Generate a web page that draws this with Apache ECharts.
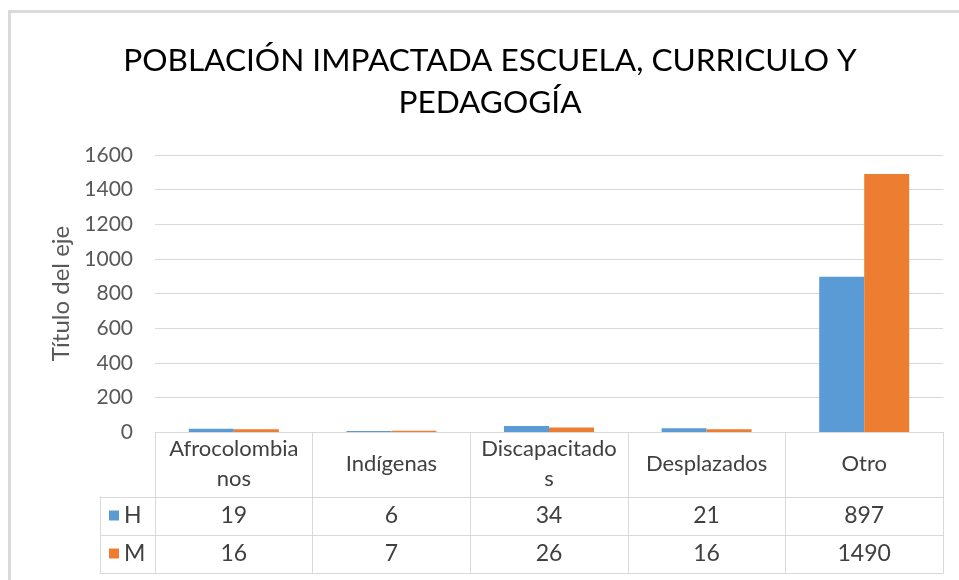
<!DOCTYPE html>
<html>
<head>
<meta charset="utf-8">
<script src="https://cdn.jsdelivr.net/npm/echarts@6/dist/echarts.min.js"></script>
<style>
  html, body { margin: 0; padding: 0; background: #fff; }
  #frame { position: absolute; left: 8px; top: 10px; width: 960px; height: 580px;
           border-left: 3px solid #dadada; border-top: 3px solid #dadada; box-sizing: border-box; }
  #chart { position: absolute; left: 0; top: 0; width: 959px; height: 580px; }
</style>
</head>
<body>
<div id="frame"></div>
<div id="chart"></div>
<script>
const categories = ['Afrocolombianos', 'Indígenas', 'Discapacitados', 'Desplazados', 'Otro'];
const categoryLabels = ['Afrocolombia\nnos', 'Indígenas', 'Discapacitado\ns', 'Desplazados', 'Otro'];
const seriesNames = ['H', 'M'];
const valuesH = [19, 6, 34, 21, 897];
const valuesM = [16, 7, 26, 16, 1490];
const yTicks = { min: 0, max: 1600, interval: 200 };

const FONT = 'Lato, "Open Sans", sans-serif';
const LINE = '#d9d9d9';
const TXT = '#404040';

const chart = echarts.init(document.getElementById('chart'), null, { renderer: 'canvas' });

function rowAxis(data, offset, labels) {
  return {
    type: 'category', gridIndex: 0, data: data, position: 'bottom', offset: offset,
    axisLine: { show: true, lineStyle: { color: LINE, width: 1 } },
    axisTick: { show: false },
    axisLabel: labels ? {
      show: true, margin: 19, verticalAlign: 'middle', fontSize: 23, color: TXT, fontFamily: FONT,
      interval: 0,
      formatter: function (v, i) { return String(labels[i]); }
    } : { show: false },
    splitLine: { show: false }
  };
}

chart.setOption({
  animation: false,
  title: {
    text: 'POBLACIÓN IMPACTADA ESCUELA, CURRICULO Y\nPEDAGOGÍA',
    left: 485, top: 35, textAlign: 'center',
    textStyle: { fontSize: 31.6, fontWeight: 'normal', color: '#000', fontFamily: FONT, lineHeight: 42 }
  },
  legend: {
    data: seriesNames, orient: 'vertical', left: 104, top: 499,
    icon: 'rect', itemWidth: 10, itemHeight: 10, itemGap: 15,
    textStyle: { fontSize: 23, lineHeight: 23, color: TXT, fontFamily: FONT },
    selectedMode: false
  },
  grid: [
    { left: 155, right: 16, top: 155, bottom: 148, containLabel: false, outerBoundsMode: 'none' },
    { left: 100, width: 55, top: 497, bottom: 7, containLabel: false, outerBoundsMode: 'none' }
  ],
  xAxis: [
    {
      type: 'category', gridIndex: 0, data: categories, position: 'bottom',
      axisLine: { show: true, lineStyle: { color: LINE } },
      axisTick: { show: true, length: 141, lineStyle: { color: LINE } },
      axisLabel: {
        margin: 32, verticalAlign: 'middle', lineHeight: 30, fontSize: 22, color: TXT, fontFamily: FONT,
        interval: 0, formatter: function (v, i) { return categoryLabels[i]; }
      }
    },
    rowAxis(categories, 65, valuesH),
    rowAxis(categories, 103, valuesM),
    rowAxis(categories, 141, null),
    { type: 'value', gridIndex: 1, position: 'bottom',
      axisLine: { show: true, lineStyle: { color: LINE } }, axisTick: { show: false },
      axisLabel: { show: false }, splitLine: { show: false } },
    { type: 'value', gridIndex: 1, position: 'top',
      axisLine: { show: true, lineStyle: { color: LINE } }, axisTick: { show: false },
      axisLabel: { show: false }, splitLine: { show: false } }
  ],
  yAxis: [
    {
      type: 'value', gridIndex: 0, min: yTicks.min, max: yTicks.max, interval: yTicks.interval,
      name: 'Título del eje', nameLocation: 'middle', nameGap: 81, nameRotate: 90,
      nameTextStyle: { fontSize: 24, color: '#595959', fontFamily: FONT },
      axisLine: { show: false }, axisTick: { show: false },
      axisLabel: { fontSize: 21, color: '#595959', margin: 22, fontFamily: FONT,
        formatter: function (v) { return String(v); } },
      splitLine: { lineStyle: { color: LINE } }
    },
    {
      type: 'category', gridIndex: 1, data: seriesNames, inverse: true, position: 'left',
      axisLine: { show: true, lineStyle: { color: LINE } }, axisTick: { show: false },
      axisLabel: { show: false },
      splitLine: { show: true, interval: 0, lineStyle: { color: LINE } }
    }
  ],
  series: [
    { name: 'H', type: 'bar', xAxisIndex: 0, yAxisIndex: 0, data: valuesH, barWidth: 45, barGap: '0%',
      itemStyle: { color: '#5b9bd5' } },
    { name: 'M', type: 'bar', xAxisIndex: 0, yAxisIndex: 0, data: valuesM, barWidth: 45, barGap: '0%',
      itemStyle: { color: '#ed7d31' } }
  ]
});
</script>
</body>
</html>
